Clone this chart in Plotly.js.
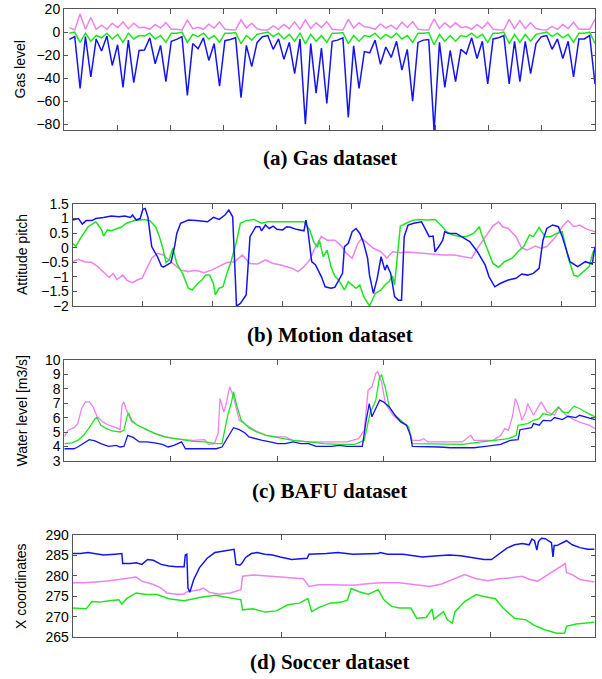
<!DOCTYPE html>
<html><head><meta charset="utf-8">
<script src="https://cdn.plot.ly/plotly-3.0.1.min.js"></script>
<style>html,body{margin:0;padding:0;background:#fff}</style>
</head><body><div id="chart" style="width:602px;height:679px"></div>
<script>
// ---------- (a) Gas dataset ----------
const gasBlue = [-6.4,-4,-49,-4,-39,-6,-16.5,-3.5,-29,-11,-48,-7,-44,-16,-15.6,-5,-27.5,-11.6,-43,-8,-6.4,-4,-55,-10,-14.5,-5,-24.6,-10,-47,-7.5,-6.4,-5,-57,-11.6,-30,-9,-4,-3,-15,-6,-23.7,-9,-36,-6,-80,-10,-53,-14,-62,-8,-7,-5,-74,-12,-49,-17,-18,-7,-28,-13,-22,-8,-33,-15,-60,-9,-7,-6.5,-86,-9,-48,-16,-43,-15,-19,-5,-23,-8,-45,-6,-5,-3,-45,-8,-43,-8,-36,-10,-4,-3,-15,-6,-23,-8,-39,-6,-6,-3,-45];
const gasGreen = [-1,0,-9,-1,-8,-3,-5,-1,-6,-2,-9,-1,-6,-3,-3.5,-1,-6,-3,-9,-1,-1,0,-9,-2,-4,-1,-6,-3,-9,-1,-1,-0.5,-10,-3,-7,-2,-1,0,-4,-1,-6,-2,-8,-1,-10,-2,-8,-3,-9,-1,-1,-0.5,-10,-3,-8,-3,-4,-1,-6,-2,-5,-1,-6,-3,-9,-1,-1,-0.5,-11,-2,-8,-3,-8,-3,-4,-1,-5,-2,-9,-1,-1,0,-10,-2,-9,-2,-8,-2,-1,0,-4,-1,-5,-2,-9,-1,-1,0,-10];
const gasPink = [3.8,1.8,15.6,2.4,12.6,2.4,5.9,2.4,7.6,3.8,8.8,2.9,7.6,3.8,4.1,2.4,6.5,3.5,8.2,2.4,2.4,1.8,10.3,2.9,4.1,2.4,6.8,3.5,8.8,2.4,2.1,1.8,10.6,3.5,7.6,2.9,1.8,1.8,5.3,2.4,6.5,2.9,8.8,2.4,10.6,3,8,4,9,2.4,2,1.8,11,3.5,8,4.5,4,2.4,7,3.5,6,2.4,8.5,4,9,2.4,2,1.8,11.5,3,8,4,8,4,4.5,2.4,6.5,3,8.5,2.4,2,1.8,11,3,10,3,8,3,2,1.8,5,2.4,6.5,3,8.5,2.4,2.4,2.4,11];
const gasX = gasBlue.map((_, i) => i);

// ---------- (b) Motion dataset ----------
const motBlueX = [0,15,25,35,50,60,80,100,120,135,150,155,165,175,182,188,195,205,210,220,230,235,245,255,265,270,280,300,320,350,365,380,395,405,415,425,435,450,460,470,475,485,490,500,510,520,530,545,555,565,580,600,605,610,620,630,645,655,670,680,690,700,705,715,725,735,745,755,765,770,780,790,800,810,815,825,835,845,853,860,870,885,905,915,925,935,940,950,960,965,975,995,1010,1030,1050,1070,1080,1095,1110,1130,1150,1165,1180,1195,1210,1220,1230,1245,1260,1270,1290,1310,1330,1348,1355];
const motBlueY = [0.95,1.0,0.81,0.93,0.93,1.0,1.04,1.09,1.06,1.09,1.04,1.12,0.95,1.0,1.32,1.35,1.06,0.04,-0.08,-0.31,-0.63,-0.67,-0.59,-0.51,0.09,0.49,0.84,0.95,0.93,0.89,1.04,0.97,1.12,1.29,1.06,-2.0,-1.91,-1.62,0.38,0.61,0.72,0.72,0.58,0.78,0.66,0.74,0.63,0.61,0.72,0.70,0.63,0.58,0.95,0.61,-0.48,-0.59,-0.99,-1.34,-1.39,-1.36,-1.11,-0.88,0.04,0.15,0.55,0.66,0.49,0.15,-0.36,-0.94,-1.57,-1.05,-0.31,-0.77,-0.59,-0.88,-1.68,-1.8,-1.8,0.38,0.78,0.84,0.89,0.61,0.38,0.40,-0.14,0.04,0.26,0.55,0.49,0.49,0.38,0.21,-0.14,-0.59,-0.99,-1.34,-1.22,-1.11,-1.05,-0.90,-0.94,-0.88,-0.71,0.26,0.66,0.78,0.72,0.38,-0.48,-0.65,-0.48,-0.56,0.04];
const motGreenX = [0,8,20,40,60,75,80,90,100,110,125,140,160,185,200,215,225,235,242,250,260,270,285,300,310,325,335,345,355,365,370,380,390,400,410,425,435,450,470,490,505,530,560,600,615,625,635,640,650,660,670,680,690,705,715,725,735,745,755,770,785,800,810,820,830,835,840,850,865,880,895,920,940,955,970,985,1005,1020,1040,1055,1060,1075,1090,1105,1120,1140,1155,1170,1185,1195,1210,1225,1240,1255,1270,1285,1300,1310,1325,1340,1350,1355];
const motGreenY = [0.15,0.04,0.32,0.72,0.89,0.61,0.40,0.61,0.58,0.63,0.70,0.84,0.93,0.97,0.93,0.72,0.38,-0.08,-0.51,-0.42,-0.02,-0.54,-0.88,-1.39,-1.45,-1.22,-1.11,-0.94,-0.94,-1.22,-1.62,-1.39,-1.34,-0.88,-0.51,0.21,0.84,0.93,0.97,0.84,0.89,0.89,0.89,0.89,0.61,0.21,0.01,0.26,-0.31,-0.08,-0.65,-0.97,-1.11,-1.45,-1.17,-1.28,-1.39,-1.28,-1.68,-2.0,-1.57,-1.45,-1.28,-1.17,-0.97,-1.28,-0.54,0.74,0.84,0.93,0.97,0.95,0.97,0.78,0.55,0.44,0.38,0.38,0.49,0.72,0.49,-0.02,-0.54,-0.67,-0.48,-0.36,-0.14,0.04,0.44,0.38,0.70,0.38,0.38,0.49,0.55,-0.31,-0.94,-0.99,-0.82,-0.65,-0.14,-0.08];
const motPinkX = [0,15,30,50,65,80,95,105,115,130,140,155,170,180,190,205,220,235,250,265,280,300,310,325,340,360,380,400,420,440,460,480,500,520,540,570,585,600,615,630,645,660,680,695,710,725,740,750,765,780,800,815,830,850,870,900,930,960,990,1020,1035,1050,1070,1090,1105,1115,1130,1150,1165,1180,1200,1215,1230,1250,1270,1285,1300,1315,1335,1355];
const motPinkY = [-0.48,-0.40,-0.48,-0.51,-0.65,-0.82,-1.02,-0.88,-1.09,-0.94,-1.11,-1.20,-1.09,-1.05,-0.77,-0.36,-0.19,-0.25,-0.42,-0.59,-0.77,-0.82,-0.79,-0.79,-0.86,-0.77,-0.63,-0.51,-0.48,-0.25,-0.54,-0.56,-0.42,-0.54,-0.59,-0.71,-0.82,-0.65,-0.42,0.04,0.38,0.26,0.26,0.09,-0.19,-0.36,0.15,0.32,0.15,-0.02,-0.14,-0.36,-0.14,-0.17,-0.15,-0.19,-0.21,-0.25,-0.25,-0.31,-0.36,-0.02,0.38,0.74,0.89,0.72,0.66,0.38,-0.02,-0.08,0.06,-0.02,0.04,0.32,0.72,0.93,0.72,0.78,0.63,0.55];

// ---------- (c) BAFU dataset ----------
const bafuBlueX = [0,25,35,50,65,80,95,115,135,145,155,165,180,195,215,235,255,270,285,305,315,335,355,375,395,410,425,440,455,470,480,495,515,535,555,575,595,615,635,655,675,695,715,735,755,775,785,793,800,810,820,830,845,860,875,890,900,905,925,945,975,1005,1035,1065,1095,1120,1135,1160,1180,1185,1200,1215,1220,1235,1245,1265,1275,1295,1310,1330,1340,1360,1380];
const bafuBlueY = [3.85,3.85,3.97,4.2,4.48,4.39,4.2,4.01,4.08,3.97,4.01,4.78,4.62,4.32,4.32,4.25,4.15,3.97,4.08,4.32,3.85,3.85,3.85,3.85,3.85,3.97,4.67,5.31,5.17,4.94,4.67,4.55,4.43,4.32,4.2,4.2,4.32,4.2,4.2,4.01,4.01,4.01,4.08,4.01,4.01,4.01,5.82,6.98,6.06,6.64,7.22,7.1,6.75,6.17,5.71,5.48,4.78,4.01,4.01,4.01,3.97,3.92,3.92,3.92,4.01,4.08,4.15,4.43,4.48,5.17,5.24,5.31,5.59,5.48,5.82,5.78,6.01,5.87,6.1,6.01,6.17,6.01,5.87];
const bafuGreenX = [0,20,35,50,65,80,85,95,110,125,145,155,163,167,175,190,210,235,260,285,310,335,365,395,410,425,435,440,447,460,480,500,525,555,595,635,675,715,755,780,795,810,820,825,835,845,860,875,895,905,935,985,1035,1085,1125,1155,1175,1180,1205,1220,1235,1245,1265,1285,1295,1310,1325,1340,1355,1380];
const bafuGreenY = [4.2,4.25,4.43,4.78,5.31,5.94,6.01,5.48,5.24,5.08,5.01,5.13,6.06,6.33,5.82,5.48,5.24,4.9,4.67,4.55,4.43,4.36,4.32,4.2,4.2,6.17,7.1,7.8,6.98,5.82,5.31,5.01,4.78,4.62,4.43,4.32,4.2,4.15,4.15,4.43,6.29,7.22,8.84,8.96,8.03,6.75,6.17,5.82,5.36,4.2,4.2,4.15,4.15,4.32,4.43,4.55,4.78,5.48,5.59,5.82,5.94,6.29,6.17,6.75,6.4,6.33,6.8,6.64,6.4,6.06];
const bafuPinkX = [0,10,25,35,45,55,65,75,85,100,115,135,145,150,155,160,175,195,215,235,260,285,310,335,365,375,390,400,405,415,420,430,440,455,475,495,525,555,575,595,635,685,735,765,780,790,800,810,815,825,835,855,875,895,905,925,935,945,985,1035,1057,1065,1115,1135,1145,1155,1165,1173,1180,1190,1200,1205,1220,1240,1255,1275,1285,1305,1325,1345,1365,1380];
const bafuPinkY = [4.67,5.13,5.31,5.59,6.64,7.1,7.1,6.75,6.1,5.71,5.48,5.31,5.17,6.87,7.1,6.64,5.71,5.41,5.13,4.94,4.71,4.55,4.48,4.43,4.48,4.15,4.2,4.9,7.33,6.4,6.87,8.14,7.45,5.82,5.48,5.13,4.78,4.67,4.67,4.43,4.32,4.32,4.32,4.55,5.13,7.91,8.14,9.07,9.19,8.49,6.98,6.17,5.71,5.36,4.43,4.43,4.55,4.32,4.32,4.32,4.78,4.43,4.43,4.78,5.24,5.13,6.06,7.33,6.87,5.82,6.4,6.98,6.17,7.1,6.4,6.17,6.75,6.17,5.87,5.64,5.48,5.24];

// ---------- (d) Soccer dataset ----------
const socBlueX = [0,20,40,60,80,110,128,130,150,165,180,195,210,230,250,270,290,293,297,300,305,315,330,350,370,390,410,420,425,435,440,450,465,480,500,520,540,570,610,615,660,690,730,770,795,800,820,860,890,910,950,980,1010,1040,1070,1090,1110,1130,1150,1170,1188,1195,1202,1208,1212,1220,1230,1240,1246,1250,1253,1260,1270,1285,1300,1320,1340,1358];
const socBlueY = [285.45,285.45,285.7,285.45,285.1,285.3,285.45,283.0,283.0,283.2,282.8,284.0,283.8,282.8,282.4,282.2,282.2,285.1,285.3,277.0,276.0,279.1,282.0,284.3,285.7,286.0,286.3,286.5,282.8,282.6,283.0,284.5,285.45,285.7,285.3,285.1,284.6,284.0,284.3,285.3,285.45,285.7,285.3,285.3,285.45,285.7,285.3,285.3,284.9,284.6,284.9,285.1,284.9,284.5,284.0,284.0,285.3,286.8,287.6,287.9,287.6,289.0,288.6,286.3,288.4,289.2,289.1,288.4,288.1,284.6,287.4,287.4,287.9,288.6,287.6,286.9,286.5,286.5];
const socPinkX = [0,30,60,90,120,150,165,180,210,230,245,270,290,295,310,330,340,355,380,410,438,442,470,510,550,600,615,640,670,700,730,760,800,850,890,930,960,990,1020,1050,1080,1110,1140,1170,1190,1210,1230,1260,1282,1285,1300,1320,1340,1358];
const socPinkY = [278.3,278.3,278.5,278.7,279.1,279.5,279.7,278.7,277.85,277.0,275.8,275.5,275.5,276.0,276.3,276.6,277.0,276.0,275.5,275.8,276.6,279.9,280.2,279.9,279.7,279.3,277.4,277.8,277.8,277.7,277.7,278.0,278.3,278.3,277.8,277.4,278.0,279.1,280.3,279.3,278.8,279.3,279.5,279.9,279.1,278.7,279.9,281.6,283.0,280.8,280.3,279.1,278.7,278.5];
const socGreenX = [0,20,35,50,70,95,120,128,140,165,190,220,250,290,330,370,410,438,442,470,500,530,560,590,612,622,640,670,700,715,725,745,770,795,810,830,850,880,895,920,935,940,965,975,988,995,1020,1050,1070,1100,1120,1150,1180,1200,1230,1260,1280,1285,1310,1358];
const socGreenY = [272.1,271.9,271.9,273.7,273.55,273.9,274.1,273.1,274.4,275.8,275.4,275.4,274.4,273.9,274.7,275.2,274.55,274.1,271.65,271.9,271.1,271.4,272.9,273.3,274.4,271.2,272.2,273.3,273.55,274.1,276.9,276.1,275.5,276.6,274.1,272.5,272.1,272.1,269.6,269.8,271.9,269.4,271.2,269.2,268.4,271.2,273.7,275.4,274.95,274.4,272.1,269.6,269.2,267.9,266.7,265.9,265.9,267.6,268.2,268.6];

const captions = ["(a) Gas dataset", "(b) Motion dataset", "(c) BAFU dataset", "(d) Soccer dataset"];
const yTitles = ["Gas level", "Attitude pitch", "Water level [m3/s]", "X coordinates"];

// ---------- styling ----------
const BLUE = '#1414f0', GREEN = '#1ee61e', PINK = '#ee82ee';
const W = 602, H = 679;
function line(x, y, color, xa, ya, w) {
  return {x: x, y: y, type: 'scatter', mode: 'lines', xaxis: xa, yaxis: ya,
          line: {color: color, width: w || 1.5}, hoverinfo: 'skip', showlegend: false};
}
const traces = [
  line(gasX, gasPink, PINK, 'x', 'y'), line(gasX, gasGreen, GREEN, 'x', 'y'), line(gasX, gasBlue, BLUE, 'x', 'y'),
  line(motPinkX, motPinkY, PINK, 'x2', 'y2'), line(motGreenX, motGreenY, GREEN, 'x2', 'y2'), line(motBlueX, motBlueY, BLUE, 'x2', 'y2'),
  line(bafuPinkX, bafuPinkY, PINK, 'x3', 'y3', 1.3), line(bafuGreenX, bafuGreenY, GREEN, 'x3', 'y3', 1.3), line(bafuBlueX, bafuBlueY, BLUE, 'x3', 'y3', 1.3),
  line(socPinkX, socPinkY, PINK, 'x4', 'y4'), line(socGreenX, socGreenY, GREEN, 'x4', 'y4'), line(socBlueX, socBlueY, BLUE, 'x4', 'y4')
];

// panel boxes in pixels: [left, right, top, bottom]
const boxes = [[64, 595, 9, 130], [72.7, 595, 204, 306], [64.3, 595, 360, 461], [72.7, 594.5, 535, 637]];
const xr = [[-1, 98], [0, 1355], [0, 1380], [0, 1358]];
const xd = [9.9, 181, 277, 271.6];
const yr = [[-85, 20], [-2, 1.5], [3, 10], [265, 290]];
const yd = [20, 0.5, 1, 5];
const capY = [158, 335, 491, 662];
const titleX = [20, 22, 21, 21];

const axBase = {showline: true, mirror: 'ticks', linecolor: '#555', linewidth: 1, ticks: 'inside',
                tickcolor: '#555', ticklen: 5, tickwidth: 1, showgrid: false, zeroline: false, fixedrange: true};
const sans = 'Liberation Sans, Arial, sans-serif';
const tickFont = {family: sans, size: 14, color: '#000'};
const layout = {width: W, height: H, margin: {l: 0, r: 0, t: 0, b: 0}, paper_bgcolor: '#fff', plot_bgcolor: '#fff',
                showlegend: false, annotations: []};
boxes.forEach((b, i) => {
  const s = i === 0 ? '' : String(i + 1);
  layout['xaxis' + s] = Object.assign({}, axBase, {domain: [b[0] / W, b[1] / W], range: xr[i], tick0: xr[i][0], dtick: xd[i],
      showticklabels: false, anchor: 'y' + s});
  layout['yaxis' + s] = Object.assign({}, axBase, {domain: [1 - b[3] / H, 1 - b[2] / H], range: yr[i], dtick: yd[i],
      tickfont: tickFont, anchor: 'x' + s, ticklen: 4});
  // y-axis title
  layout.annotations.push({text: yTitles[i], xref: 'paper', yref: 'paper', x: titleX[i] / W, y: 1 - (b[2] + b[3]) / 2 / H,
      xanchor: 'center', yanchor: 'middle', textangle: -90, showarrow: false,
      font: {family: sans, size: 14, color: '#000'}});
  // panel caption
  layout.annotations.push({text: '<b>' + captions[i] + '</b>', xref: 'paper', yref: 'paper', x: 329.5 / W, y: 1 - capY[i] / H,
      xanchor: 'center', yanchor: 'middle', showarrow: false,
      font: {family: 'Liberation Serif, Times New Roman, serif', size: 21, color: '#000'}});
});
Plotly.newPlot('chart', traces, layout, {staticPlot: true, displayModeBar: false});
</script></body></html>
